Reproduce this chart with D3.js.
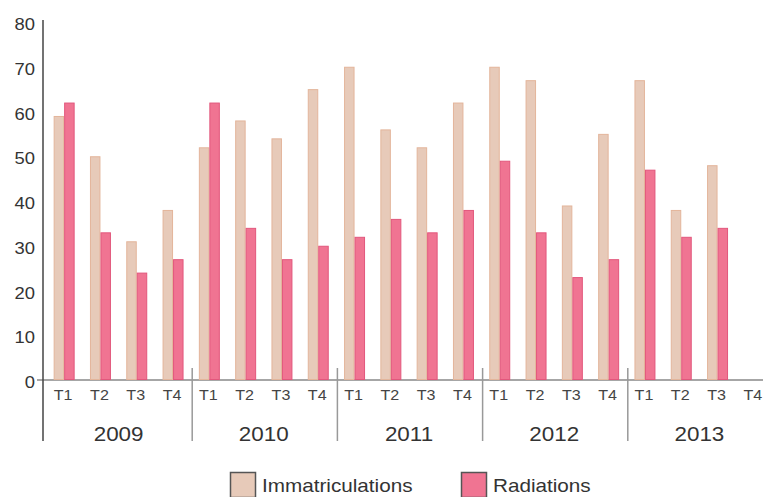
<!DOCTYPE HTML>
<html lang="fr">
<head>
<meta charset="utf-8" />
<title>Immatriculations / Radiations</title>
<style>
  body { margin: 0; background: #fff; }
  svg { display: block; font-family: "Liberation Sans", Arial, sans-serif; }
</style>
</head>
<body>
<div id="chart"></div>
<script src="https://cdn.jsdelivr.net/npm/d3@7"></script>
<script>
const years = ['2009', '2010', '2011', '2012', '2013'];
const quarters = ['T1', 'T2', 'T3', 'T4'];
const seriesNames = ['Immatriculations', 'Radiations'];
const immatriculations = [59, 50, 31, 38, 52, 58, 54, 65, 70, 56, 52, 62, 70, 67, 39, 55, 67, 38, 48, 0];
const radiations = [62, 33, 24, 27, 62, 34, 27, 30, 32, 36, 33, 38, 49, 33, 23, 27, 47, 32, 34, 0];
const yTicks = [0, 10, 20, 30, 40, 50, 60, 70, 80];

const width = 763;
const height = 497;
const stretch = 1.15;   // glyphs in the picture are a little wide

const fills = { Immatriculations: '#e7cab9', Radiations: '#f07492' };
const strokes = { Immatriculations: '#e3b59b', Radiations: '#e2577c' };

const rows = [];
years.forEach((yr, i) => {
    quarters.forEach((q, j) => {
        const k = i * 4 + j;
        rows.push({ year: yr, quarter: q, Immatriculations: immatriculations[k], Radiations: radiations[k] });
    });
});

const svg = d3.select('#chart').append('svg')
    .attr('width', width)
    .attr('height', height);

const y = d3.scaleLinear().domain([0, 80]).range([380, 22]);
const x0 = d3.scaleBand().domain(years).range([46, 772]);
const x1 = d3.scaleBand().domain(quarters).range([0, x0.bandwidth()]);
const x2 = d3.scaleBand().domain(seriesNames).range([0, x1.bandwidth()]).paddingOuter(0.73);

function label(sel, x, yy, txt, size, anchor, color) {
    return sel.append('text')
        .attr('transform', `translate(${x},${yy}) scale(${stretch},1)`)
        .attr('text-anchor', anchor)
        .attr('font-size', size)
        .attr('fill', color)
        .text(txt);
}

// axes
svg.append('line')
    .attr('x1', 37).attr('x2', width)
    .attr('y1', y(0)).attr('y2', y(0))
    .attr('stroke', '#888').attr('stroke-width', 1.5);

svg.append('line')
    .attr('x1', 43).attr('x2', 43)
    .attr('y1', 20).attr('y2', 441)
    .attr('stroke', '#444').attr('stroke-width', 1.5);

// bars
const groups = svg.selectAll('.slot')
    .data(rows)
    .enter()
    .append('g')
    .attr('class', 'slot')
    .attr('transform', d => `translate(${x0(d.year) + x1(d.quarter)},0)`);

groups.selectAll('rect')
    .data(d => seriesNames.map(s => ({ s, v: d[s] })))
    .enter()
    .append('rect')
    .attr('x', d => x2(d.s) + 0.5)
    .attr('y', d => d.v === 0 ? y(0) - 2.5 : y(d.v) + 0.5)
    .attr('width', x2.bandwidth() - 1)
    .attr('height', d => Math.max(0, y(0) - y(d.v) - 1))
    .attr('fill', d => fills[d.s])
    .attr('stroke', d => d.v === 0 ? (d.s === 'Radiations' ? 'none' : '#999') : strokes[d.s])
    .attr('stroke-width', 1);

yTicks.forEach(t => label(svg, 35, y(t) + 8, t, 16, 'end', '#333'));

// quarter labels
rows.forEach(d => {
    label(svg, x0(d.year) + x1(d.quarter) + x1.bandwidth() / 2 - 1, 400, d.quarter, 14, 'middle', '#444');
});

// year separators + labels
years.forEach((yr, i) => {
    if (i > 0) {
        svg.append('line')
            .attr('x1', x0(yr) + 1).attr('x2', x0(yr) + 1)
            .attr('y1', 368).attr('y2', 441)
            .attr('stroke', '#999').attr('stroke-width', 1.5);
    }
    label(svg, x0(yr) + x0.bandwidth() / 2, 441, yr, 19.5, 'middle', '#333');
});

// legend
const legendX = { Immatriculations: 230, Radiations: 461 };
seriesNames.forEach(s => {
    svg.append('rect')
        .attr('x', legendX[s] + 0.5).attr('y', 472.5)
        .attr('width', 25).attr('height', 25)
        .attr('fill', fills[s])
        .attr('stroke', '#555').attr('stroke-width', 1.5);
    label(svg, legendX[s] + 32, 492, s, 18, 'start', '#333');
});
</script>
</body>
</html>
